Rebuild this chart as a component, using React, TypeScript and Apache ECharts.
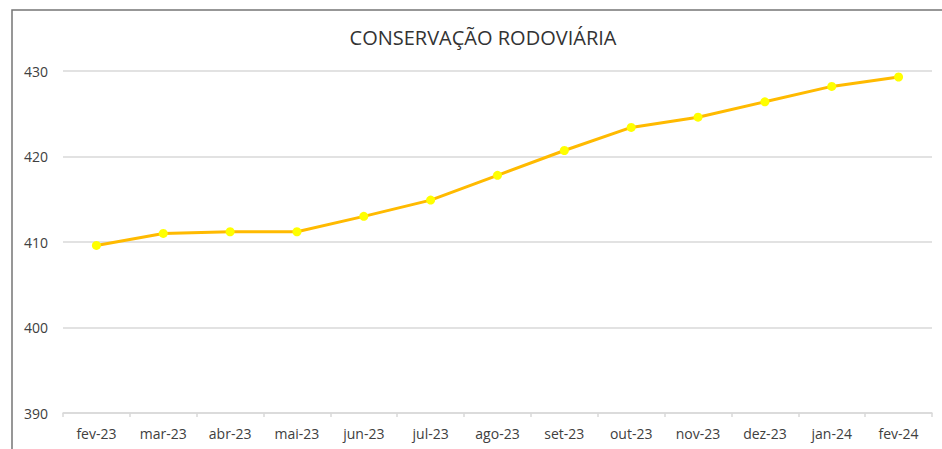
import React, { useEffect, useRef } from "react";
import * as echarts from "echarts";

const categories = ["fev-23", "mar-23", "abr-23", "mai-23", "jun-23", "jul-23", "ago-23", "set-23", "out-23", "nov-23", "dez-23", "jan-24", "fev-24"];
const values = [409.6, 411.0, 411.2, 411.2, 413.0, 414.9, 417.8, 420.7, 423.4, 424.6, 426.4, 428.2, 429.3];
const yMin = 390;
const yMax = 430;
const yInterval = 10;
const title = "CONSERVAÇÃO RODOVIÁRIA";

export default function App() {
  const ref = useRef<HTMLDivElement>(null);
  useEffect(() => {
    document.body.style.margin = "0";
    const chart = echarts.init(ref.current!, undefined, { renderer: "svg" });
    chart.setOption({
      animation: false,
      backgroundColor: "#ffffff",
      title: {
        text: title,
        left: 478,
        top: 22,
        textAlign: "center",
        textStyle: { fontFamily: "Open Sans", fontSize: 20, fontWeight: "normal", color: "#333333" },
      },
      graphic: [
        {
          type: "rect",
          shape: { x: 12, y: 10, width: 960, height: 480 },
          style: { fill: "none", stroke: "#767676", lineWidth: 1.5 },
          silent: true,
        },
      ],
      grid: { left: 63, right: 10, top: 71, bottom: 36 },
      xAxis: {
        type: "category",
        data: categories,
        boundaryGap: true,
        axisLine: { lineStyle: { color: "#d9d9d9", width: 1.5 } },
        axisTick: { show: true, length: 4, lineStyle: { color: "#d9d9d9", width: 1.5 } },
        axisLabel: { fontFamily: "Open Sans", fontSize: 14, color: "#404040", margin: 13 },
      },
      yAxis: {
        type: "value",
        min: yMin,
        max: yMax,
        interval: yInterval,
        axisLine: { show: false },
        axisTick: { show: false },
        splitLine: { lineStyle: { color: "#d9d9d9", width: 1.5 } },
        axisLabel: { fontFamily: "Open Sans", fontSize: 14, color: "#404040", margin: 15 },
      },
      series: [
        {
          type: "line",
          data: values,
          symbol: "circle",
          symbolSize: 9,
          lineStyle: { color: "#FFBA00", width: 3 },
          itemStyle: { color: "#FFFF00", borderWidth: 0 },
          z: 3,
        },
      ],
    });
    return () => chart.dispose();
  }, []);
  return <div ref={ref} style={{ position: "absolute", left: 0, top: 0, width: 942, height: 449 }} />;
}
